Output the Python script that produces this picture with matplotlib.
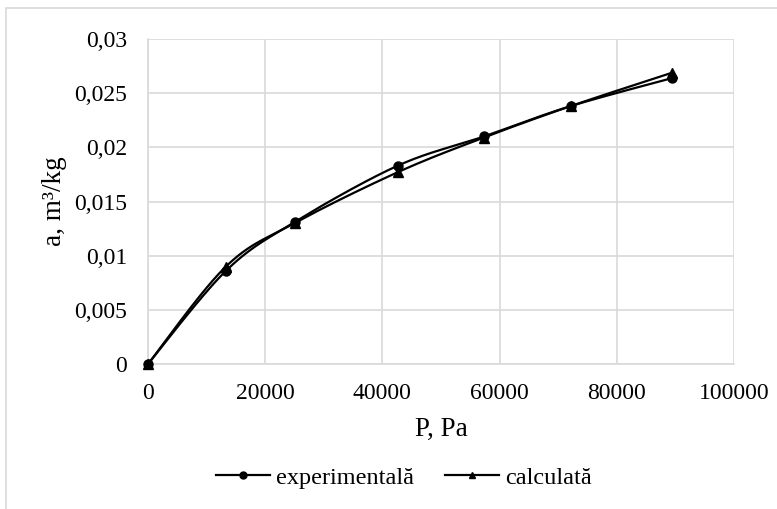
import matplotlib
matplotlib.use("Agg")
import matplotlib.pyplot as plt
from matplotlib.patches import Rectangle
import numpy as np

# values
P = [0, 13300, 25000, 42600, 57300, 72100, 89500]
a_exp = [0, 0.0086, 0.0131, 0.0183, 0.0210, 0.0238, 0.0264]
a_calc = [0, 0.0090, 0.0130, 0.0177, 0.0209, 0.0238, 0.0269]
xticks = [0, 20000, 40000, 60000, 80000, 100000]
yticks = [0, 0.005, 0.01, 0.015, 0.02, 0.025, 0.03]
ylabels = ["0", "0,005", "0,01", "0,015", "0,02", "0,025", "0,03"]

plt.rcParams["font.family"] = ["Liberation Serif", "DejaVu Serif"]


def smooth(x, y, n=30):
    # excel-like smoothed line: catmull-rom bezier segments
    x = np.asarray(x, float)
    y = np.asarray(y, float)
    px = np.concatenate([[x[0]], x, [x[-1]]])
    py = np.concatenate([[y[0]], y, [y[-1]]])
    xs, ys = [], []
    t = np.linspace(0, 1, n)
    for i in range(1, len(px) - 2):
        p0 = np.array([px[i], py[i]])
        p3 = np.array([px[i + 1], py[i + 1]])
        p1 = p0 + (np.array([px[i + 1], py[i + 1]]) - np.array([px[i - 1], py[i - 1]])) / 6
        p2 = p3 - (np.array([px[i + 2], py[i + 2]]) - np.array([px[i], py[i]])) / 6
        b = ((1 - t) ** 3)[:, None] * p0 + (3 * (1 - t) ** 2 * t)[:, None] * p1 \
            + (3 * (1 - t) * t ** 2)[:, None] * p2 + (t ** 3)[:, None] * p3
        xs.extend(b[:, 0])
        ys.extend(b[:, 1])
    return xs, ys


fig = plt.figure(figsize=(7.77, 5.09), dpi=100)
ax = fig.add_axes([148 / 777, 1 - 364 / 509, (734 - 148) / 777, (364 - 39) / 509])

fig.patches.append(Rectangle((6 / 777, -0.1), 1.2, (509 - 8) / 509 + 0.1,
                             transform=fig.transFigure, fill=False,
                             edgecolor="#d9d9d9", linewidth=1.2))

sx, sy = smooth(P, a_exp)
ax.plot(sx, sy, color="black", lw=1.6, zorder=3)
ax.plot(P, a_exp, "o", color="black", ms=6.5, zorder=4, clip_on=False)
sx, sy = smooth(P, a_calc)
ax.plot(sx, sy, color="black", lw=1.6, zorder=3)
ax.plot(P, a_calc, "^", color="black", ms=6.5, zorder=4, clip_on=False)

# legend handles (smaller markers, like excel)
ax.plot([], [], "-o", color="black", lw=1.6, ms=5, label="experimentală")
ax.plot([], [], "-^", color="black", lw=1.6, ms=5, label="calculată")

ax.set_xlim(0, 100000)
ax.set_ylim(0, 0.03)
ax.set_xticks(xticks)
ax.set_xticklabels([str(v) for v in xticks])
ax.set_yticks(yticks)
ax.set_yticklabels(ylabels)
ax.tick_params(axis="y", length=0, labelsize=17, pad=15)
ax.tick_params(axis="x", length=0, labelsize=17, pad=14)
ax.grid(True, color="#d9d9d9", lw=1.2)
ax.set_axisbelow(True)
for s in ["top", "right"]:
    ax.spines[s].set_visible(False)
for s in ["left", "bottom"]:
    ax.spines[s].set_color("#d9d9d9")
    ax.spines[s].set_linewidth(1.2)

ax.set_xlabel("P, Pa", fontsize=19.5, labelpad=9)
ax.set_ylabel("a, m³/kg", fontsize=19.5, labelpad=5)

h, l = ax.get_legend_handles_labels()
fig.legend(h[-2:], l[-2:], loc="center", bbox_to_anchor=(404 / 777, 1 - 478 / 509),
           ncol=2, frameon=False, fontsize=17.5, handlelength=2.2, columnspacing=1.3,
           handletextpad=0.25)

fig.savefig("out.png", dpi=100)
